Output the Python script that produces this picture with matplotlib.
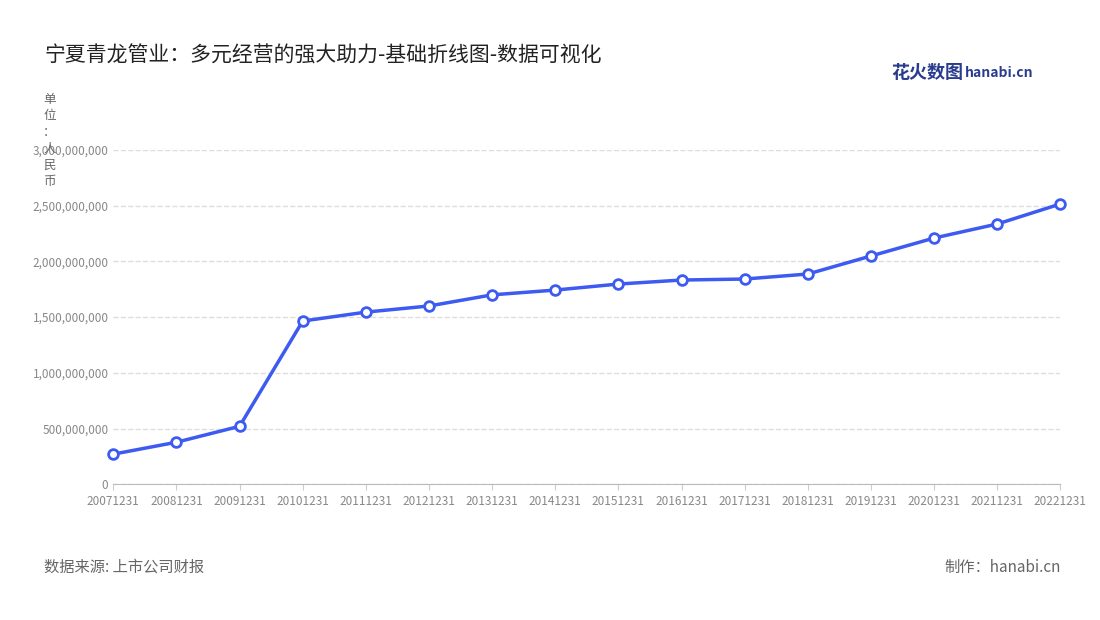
import matplotlib
matplotlib.use('Agg')
import matplotlib.pyplot as plt
from matplotlib.ticker import FuncFormatter

plt.rcParams['font.family'] = ['Noto Sans CJK SC', 'DejaVu Sans']

dates = ["20071231", "20081231", "20091231", "20101231", "20111231", "20121231",
         "20131231", "20141231", "20151231", "20161231", "20171231", "20181231",
         "20191231", "20201231", "20211231", "20221231"]
revenue = [0.27e9, 0.377e9, 0.52e9, 1.465e9, 1.545e9, 1.60e9, 1.70e9, 1.743e9,
           1.797e9, 1.833e9, 1.842e9, 1.887e9, 2.049e9, 2.21e9, 2.336e9, 2.516e9]

fig = plt.figure(figsize=(11, 6.2), dpi=100)
ax = fig.add_axes([0.103, 0.219, 0.861, 0.539])

x = range(len(dates))
ax.plot(x, revenue, color='#3d5af1', lw=2.5, marker='o', ms=7,
        mfc='white', mec='#3d5af1', mew=2, zorder=3, clip_on=False)

ax.set_xlim(0, len(dates) - 1)
ax.set_ylim(0, 3e9)
ax.set_yticks([i * 5e8 for i in range(7)])
ax.yaxis.set_major_formatter(FuncFormatter(lambda v, p: f"{int(v):,}"))
ax.set_xticks(list(x))
ax.set_xticklabels(dates)
ax.tick_params(axis='both', labelsize=8.5, colors='#888888', length=0)
ax.tick_params(axis='x', length=4, color='#cccccc')
ax.grid(axis='y', ls='--', color='#dddddd', lw=1)
for s in ['top', 'right', 'left']:
    ax.spines[s].set_visible(False)
ax.spines['bottom'].set_color('#bbbbbb')

fig.text(0.04, 0.91, "宁夏青龙管业：多元经营的强大助力-基础折线图-数据可视化",
         fontsize=15, color='#222222', va='center')
fig.text(0.045, 0.85, "单\n位\n：\n人\n民\n币", fontsize=9, color='#666666',
         va='top', ha='center', linespacing=1.35)
fig.text(0.81, 0.883, "花火数图", fontsize=13, color='#2a3c8f', weight='bold', va='center')
fig.text(0.877, 0.883, "hanabi.cn", fontsize=10, color='#2a3c8f', weight='bold', va='center')
fig.text(0.04, 0.085, "数据来源: 上市公司财报", fontsize=11, color='#666666', va='center')
fig.text(0.964, 0.085, "制作：hanabi.cn", fontsize=11, color='#666666', va='center', ha='right')

fig.savefig("out.png", dpi=100)
